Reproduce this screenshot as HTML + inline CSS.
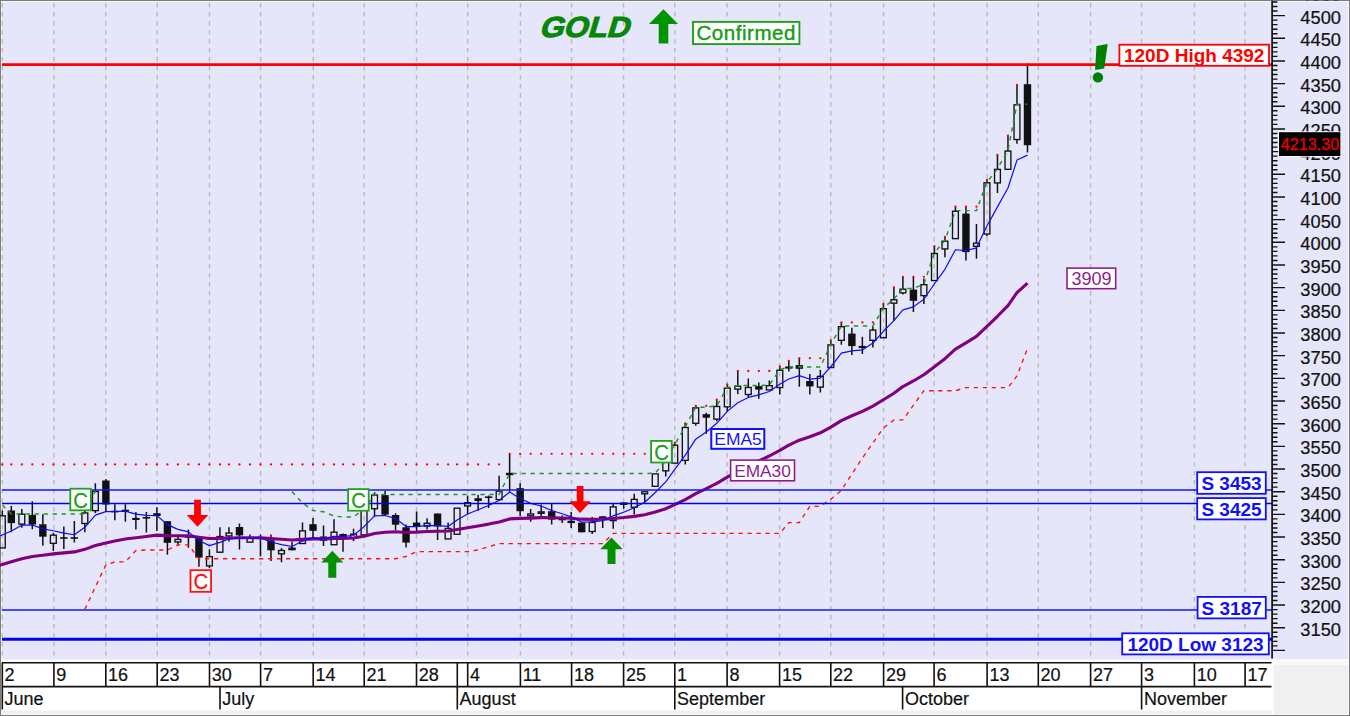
<!DOCTYPE html><html><head><meta charset="utf-8"><title>GOLD</title><style>
html,body{margin:0;padding:0;background:#fff;overflow:hidden}svg{display:block}
text{font-family:"Liberation Sans",sans-serif}.ser{font-family:"Liberation Serif",serif}
</style></head><body>
<svg width="1350" height="716" viewBox="0 0 1350 716">
<defs><clipPath id="axclip"><rect x="1273" y="0.6" width="76" height="658.4"/></clipPath></defs>
<rect x="0" y="0" width="1350" height="716" fill="#7c7c7c"/>
<rect x="1" y="1" width="1348" height="714" fill="#f6f6fc"/>
<rect x="2" y="2" width="1346" height="712" fill="#f0f0f0"/>
<rect x="2" y="2" width="1346" height="657.5" fill="#e6e6fa"/>
<rect x="2" y="659.5" width="1346" height="3" fill="#fbfbfb"/>
<rect x="2" y="662" width="1270" height="48.5" fill="#fff"/>
<rect x="1272" y="659.5" width="2" height="54.5" fill="#fbfbfb"/><rect x="1272" y="659.5" width="76" height="5.5" fill="#fbfbfb"/><rect x="1272" y="661.8" width="76" height="1" fill="#f3f3f3"/>
<path d="M2.3 3V659M53.9 3V659M105.8 3V659M157.2 3V659M209.5 3V659M260.6 3V659M313.2 3V659M364.2 3V659M416.5 3V659M467.7 3V659M520.4 3V659M571.6 3V659M623.6 3V659M674.8 3V659M727.1 3V659M779.6 3V659M830.8 3V659M883.6 3V659M934.1 3V659M987.1 3V659M1038.3 3V659M1090.6 3V659M1141.6 3V659M1194.4 3V659M1245.1 3V659" stroke="#b9b9b9" stroke-width="1.4" stroke-dasharray="4.5 4.5" fill="none"/>
<path d="M2.3 510.5V515.6M11.31 505.9V532.3M21.81 508.9V514M21.81 524.3V527.8M32.32 501.3V529.3M42.83 514.2V545.7M53.33 532.7V535M53.33 543.5V551.1M63.84 526.6V548.9M74.35 521V542.6M84.85 511V512.8M84.85 523.7V532.2M95.36 483.3V491.3M95.36 510.8V513M105.87 479V512M114.87 504.2V520.3M125.38 504.2V521.7M135.89 511.9V529.4M146.4 511.9V532.4M156.9 507.2V531M167.41 521.2V554.7M177.92 536.6V539.2M177.92 542.1V545.6M188.42 529.6V547.7M198.93 535.9V566.8M209.44 549.2V556.5M209.44 566.1V568.3M219.94 527.2V536.4M228.95 527.2V532.9M228.95 536.1V541.5M239.46 523.5V549.4M249.97 534.4V538M260.47 534.4V556.3M270.98 534.4V561M281.49 548V550.3M281.49 554V562.3M291.99 541.7V550.3M302.5 522.4V530.7M313.01 517.9V537.5M323.51 525.6V546M334.02 519.2V532M343.03 533.5V551.7M353.53 528.7V534M353.53 537.9V541.2M364.04 505V509.5M374.55 492.3V494.9M374.55 508.9V516.8M385.06 490.7V516.1M395.56 513.3V530.1M406.07 524.5V547.5M416.58 511.5V531M427.08 518.2V523.1M427.08 526.3V529.6M437.59 513.5V540.1M448.1 522.6V528.3M467.61 495.4V502.5M467.61 506.1V514.2M478.12 494.7V510.8M488.62 495.4V508M499.13 475.8V491M509.64 453.8V491.7M520.14 483.3V516.1M530.65 508.9V513.8M530.65 516V521.7M541.16 504.5V511.7M541.16 513.5V516.1M551.67 504V524.5M562.17 515.4V523.1M571.18 511.9V528M581.69 522.6V532.3M592.19 517.1V522.3M592.19 531.7V533.9M602.7 516.3V528M613.21 503.7V506.7M613.21 520.8V528.8M623.71 502.4V508.7M634.22 493.7V499.2M634.22 507.4V514.6M644.73 494V502M665.74 471V476.4M674.75 442.8V445M685.25 423.3V427.3M685.25 460.5V464.5M695.76 405.8V407.7M695.76 423.5V425.8M706.27 412.8V433.8M716.78 399.6V406.3M716.78 419.3V421.2M727.28 384.4V388M727.28 407V411.2M737.79 371V386M737.79 389.3V394.2M748.3 378.4V387.3M748.3 394.7V397.3M758.8 382.6V398.7M769.31 380.5V385.5M779.82 366.5V370.1M779.82 387.7V394.5M788.82 361V371.4M799.33 358.2V386.8M809.84 374V394.5M820.34 369.7V376.2M820.34 387.3V392.5M830.85 340.3V344.7M841.36 322.4V326.5M841.36 340.5V344.7M851.87 327.7V354.9M862.37 336.8V354M872.88 326.6V329.9M872.88 340.5V347.5M883.39 304V308.5M893.89 287.4V299.6M893.89 303.3V320.9M902.9 276.8V289M902.9 293V294.6M913.41 276.8V312M923.91 278.4V284.5M923.91 295.8V304.1M934.42 246.1V253.3M944.93 237V241M944.93 249.1V257.3M955.43 206.7V211.1M965.94 206.7V260.4M976.45 224V243M976.45 246.5V258.8M986.96 179.9V182.6M986.96 234.2V236.2M997.46 154.9V169.2M997.46 183.1V193M1007.97 135.6V150.9M1016.98 84.9V104.6M1016.98 139.7V143.7M1027.48 64.4V152.4" stroke="#111" stroke-width="1.5" fill="none"/>
<g><rect x="-0.62" y="515.77" width="5.85" height="32.15" fill="none" stroke="#111" stroke-width="1.35"/><rect x="7.61" y="510.5" width="7.4" height="12.6" fill="#111"/><rect x="18.89" y="514.17" width="5.85" height="9.95" fill="none" stroke="#111" stroke-width="1.35"/><rect x="28.62" y="514.9" width="7.4" height="9.7" fill="#111"/><rect x="39.13" y="524.3" width="7.4" height="12.4" fill="#111"/><rect x="50.41" y="535.17" width="5.85" height="8.15" fill="none" stroke="#111" stroke-width="1.35"/><rect x="60.14" y="537.2" width="7.4" height="1.6" fill="#111"/><rect x="70.65" y="537.2" width="7.4" height="1.6" fill="#111"/><rect x="81.93" y="512.97" width="5.85" height="10.55" fill="none" stroke="#111" stroke-width="1.35"/><rect x="92.44" y="491.48" width="5.85" height="19.15" fill="none" stroke="#111" stroke-width="1.35"/><rect x="102.17" y="480.5" width="7.4" height="24" fill="#111"/><rect x="111.17" y="510.7" width="7.4" height="1.6" fill="#111"/><rect x="121.68" y="509.7" width="7.4" height="1.6" fill="#111"/><rect x="132.19" y="517.9" width="7.4" height="2.1" fill="#111"/><rect x="142.7" y="517" width="7.4" height="1.6" fill="#111"/><rect x="153.2" y="513.2" width="7.4" height="2.8" fill="#111"/><rect x="163.71" y="521.2" width="7.4" height="21.6" fill="#111"/><rect x="174.99" y="539.38" width="5.85" height="2.55" fill="none" stroke="#111" stroke-width="1.35"/><rect x="184.72" y="536.2" width="7.4" height="1.6" fill="#111"/><rect x="195.23" y="536.4" width="7.4" height="21.2" fill="#111"/><rect x="206.51" y="556.67" width="5.85" height="9.25" fill="none" stroke="#111" stroke-width="1.35"/><rect x="217.02" y="536.57" width="5.85" height="15.65" fill="none" stroke="#111" stroke-width="1.35"/><rect x="226.03" y="533.07" width="5.85" height="2.85" fill="none" stroke="#111" stroke-width="1.35"/><rect x="235.76" y="527" width="7.4" height="8.4" fill="#111"/><rect x="247.04" y="538.17" width="5.85" height="3.95" fill="none" stroke="#111" stroke-width="1.35"/><rect x="256.77" y="537.5" width="7.4" height="1.6" fill="#111"/><rect x="267.28" y="540.3" width="7.4" height="10" fill="#111"/><rect x="278.56" y="550.47" width="5.85" height="3.35" fill="none" stroke="#111" stroke-width="1.35"/><rect x="288.29" y="547.5" width="7.4" height="2.8" fill="#111"/><rect x="299.57" y="530.88" width="5.85" height="12.65" fill="none" stroke="#111" stroke-width="1.35"/><rect x="309.31" y="524.2" width="7.4" height="6.6" fill="#111"/><rect x="319.81" y="536.5" width="7.4" height="4.3" fill="#111"/><rect x="331.1" y="532.17" width="5.85" height="12.55" fill="none" stroke="#111" stroke-width="1.35"/><rect x="339.33" y="534" width="7.4" height="2.8" fill="#111"/><rect x="350.61" y="534.17" width="5.85" height="3.55" fill="none" stroke="#111" stroke-width="1.35"/><rect x="361.12" y="509.68" width="5.85" height="25.25" fill="none" stroke="#111" stroke-width="1.35"/><rect x="371.62" y="495.07" width="5.85" height="13.65" fill="none" stroke="#111" stroke-width="1.35"/><rect x="381.36" y="495.1" width="7.4" height="19.6" fill="#111"/><rect x="391.86" y="515" width="7.4" height="9.7" fill="#111"/><rect x="402.37" y="527.3" width="7.4" height="15.3" fill="#111"/><rect x="412.88" y="522.6" width="7.4" height="4.2" fill="#111"/><rect x="424.16" y="523.27" width="5.85" height="2.85" fill="none" stroke="#111" stroke-width="1.35"/><rect x="433.89" y="513.5" width="7.4" height="13" fill="#111"/><rect x="445.17" y="528.47" width="5.85" height="10.45" fill="none" stroke="#111" stroke-width="1.35"/><rect x="454.18" y="508.18" width="5.85" height="26.05" fill="none" stroke="#111" stroke-width="1.35"/><rect x="464.68" y="502.68" width="5.85" height="3.25" fill="none" stroke="#111" stroke-width="1.35"/><rect x="474.42" y="498.2" width="7.4" height="2.8" fill="#111"/><rect x="484.92" y="496.4" width="7.4" height="1.6" fill="#111"/><rect x="496.21" y="491.18" width="5.85" height="8.45" fill="none" stroke="#111" stroke-width="1.35"/><rect x="505.94" y="472.8" width="7.4" height="2.4" fill="#111"/><rect x="516.44" y="488.2" width="7.4" height="23" fill="#111"/><rect x="527.73" y="513.97" width="5.85" height="1.85" fill="none" stroke="#111" stroke-width="1.35"/><rect x="538.23" y="511.88" width="5.85" height="1.45" fill="none" stroke="#111" stroke-width="1.35"/><rect x="547.97" y="511.2" width="7.4" height="8.4" fill="#111"/><rect x="558.47" y="517.5" width="7.4" height="2.8" fill="#111"/><rect x="567.48" y="520.7" width="7.4" height="2.4" fill="#111"/><rect x="577.99" y="522.6" width="7.4" height="9.7" fill="#111"/><rect x="589.27" y="522.47" width="5.85" height="9.05" fill="none" stroke="#111" stroke-width="1.35"/><rect x="599" y="516.3" width="7.4" height="2.1" fill="#111"/><rect x="610.28" y="506.88" width="5.85" height="13.75" fill="none" stroke="#111" stroke-width="1.35"/><rect x="620.01" y="502.4" width="7.4" height="2.6" fill="#111"/><rect x="631.3" y="499.38" width="5.85" height="7.85" fill="none" stroke="#111" stroke-width="1.35"/><rect x="641.8" y="491.78" width="5.85" height="2.05" fill="none" stroke="#111" stroke-width="1.35"/><rect x="652.31" y="473.88" width="5.85" height="12.45" fill="none" stroke="#111" stroke-width="1.35"/><rect x="662.82" y="461.18" width="5.85" height="9.65" fill="none" stroke="#111" stroke-width="1.35"/><rect x="671.82" y="445.18" width="5.85" height="17.95" fill="none" stroke="#111" stroke-width="1.35"/><rect x="682.33" y="427.48" width="5.85" height="32.85" fill="none" stroke="#111" stroke-width="1.35"/><rect x="692.84" y="407.88" width="5.85" height="15.45" fill="none" stroke="#111" stroke-width="1.35"/><rect x="702.57" y="414.2" width="7.4" height="3.5" fill="#111"/><rect x="713.85" y="406.48" width="5.85" height="12.65" fill="none" stroke="#111" stroke-width="1.35"/><rect x="724.36" y="388.18" width="5.85" height="18.65" fill="none" stroke="#111" stroke-width="1.35"/><rect x="734.86" y="386.18" width="5.85" height="2.95" fill="none" stroke="#111" stroke-width="1.35"/><rect x="745.37" y="387.48" width="5.85" height="7.05" fill="none" stroke="#111" stroke-width="1.35"/><rect x="755.1" y="386.1" width="7.4" height="3.5" fill="#111"/><rect x="766.39" y="385.68" width="5.85" height="4.25" fill="none" stroke="#111" stroke-width="1.35"/><rect x="776.89" y="370.28" width="5.85" height="17.25" fill="none" stroke="#111" stroke-width="1.35"/><rect x="785.12" y="366.5" width="7.4" height="2.1" fill="#111"/><rect x="795.63" y="365.1" width="7.4" height="3.7" fill="#111"/><rect x="806.14" y="381" width="7.4" height="5.4" fill="#111"/><rect x="817.42" y="376.38" width="5.85" height="10.75" fill="none" stroke="#111" stroke-width="1.35"/><rect x="827.93" y="344.88" width="5.85" height="22.65" fill="none" stroke="#111" stroke-width="1.35"/><rect x="838.43" y="326.68" width="5.85" height="13.65" fill="none" stroke="#111" stroke-width="1.35"/><rect x="848.17" y="333.6" width="7.4" height="12.5" fill="#111"/><rect x="858.67" y="345.9" width="7.4" height="2.1" fill="#111"/><rect x="869.95" y="330.07" width="5.85" height="10.25" fill="none" stroke="#111" stroke-width="1.35"/><rect x="880.46" y="308.68" width="5.85" height="29.05" fill="none" stroke="#111" stroke-width="1.35"/><rect x="890.97" y="299.78" width="5.85" height="3.35" fill="none" stroke="#111" stroke-width="1.35"/><rect x="899.97" y="289.18" width="5.85" height="3.65" fill="none" stroke="#111" stroke-width="1.35"/><rect x="909.71" y="289.6" width="7.4" height="11.2" fill="#111"/><rect x="920.99" y="284.68" width="5.85" height="10.95" fill="none" stroke="#111" stroke-width="1.35"/><rect x="931.5" y="253.48" width="5.85" height="27.05" fill="none" stroke="#111" stroke-width="1.35"/><rect x="942" y="241.18" width="5.85" height="7.75" fill="none" stroke="#111" stroke-width="1.35"/><rect x="952.51" y="211.28" width="5.85" height="27.35" fill="none" stroke="#111" stroke-width="1.35"/><rect x="962.24" y="213.6" width="7.4" height="38.5" fill="#111"/><rect x="973.52" y="243.18" width="5.85" height="3.15" fill="none" stroke="#111" stroke-width="1.35"/><rect x="984.03" y="182.78" width="5.85" height="51.25" fill="none" stroke="#111" stroke-width="1.35"/><rect x="994.54" y="169.38" width="5.85" height="13.55" fill="none" stroke="#111" stroke-width="1.35"/><rect x="1005.04" y="151.08" width="5.85" height="18.25" fill="none" stroke="#111" stroke-width="1.35"/><rect x="1014.05" y="104.77" width="5.85" height="34.75" fill="none" stroke="#111" stroke-width="1.35"/><rect x="1023.78" y="84.2" width="7.4" height="61" fill="#111"/></g>
<polyline points="84.85,609.3 95.36,587 105.87,564.8 114.87,561.9 125.38,561.9 135.89,550.5 146.4,550 156.9,550 167.41,550 177.92,544.8 188.42,544.8 198.93,558.8 209.44,558.7 219.94,558.7 228.95,558.7 239.46,558.7 249.97,558.7 260.47,558.7 270.98,558.7 281.49,558.7 291.99,558.7 302.5,558.7 313.01,558.7 323.51,558.7 334.02,558.7 343.03,558.7 353.53,558.7 364.04,558.7 374.55,558.7 385.06,558.7 395.56,558.7 406.07,556.5 416.58,551.6 427.08,551.6 437.59,551.6 448.1,551.6 457.1,551.6 467.61,551.6 478.12,550 488.62,546.7 499.13,543.6 509.64,543.6 520.14,543.6 530.65,543.6 541.16,543.6 551.67,543.6 562.17,543.6 571.18,543.6 581.69,543.6 592.19,543.6 602.7,543.6 613.21,533.4 623.71,533.4 634.22,533.4 644.73,533.4 655.23,533.4 665.74,533.4 674.75,533.4 685.25,533.4 695.76,533.4 706.27,533.4 716.78,533.4 727.28,533.4 737.79,533.4 748.3,533.4 758.8,533.4 769.31,533.4 779.82,533.4 788.82,522.6 799.33,522.6 809.84,506.3 820.34,506.3 830.85,499.2 841.36,490.4 851.87,474 862.37,458 872.88,443 883.39,428 893.89,419.9 902.9,419.9 913.41,405.2 923.91,390.7 934.42,390.7 944.93,390.7 955.43,390.7 965.94,387.6 976.45,387.6 986.96,387.6 997.46,387.6 1007.97,387.6 1016.98,376 1027.48,348.4" fill="none" stroke="#ff1010" stroke-width="1.35" stroke-dasharray="4.3 4.7"/>
<g fill="#ff0000"><circle cx="2.3" cy="464.4" r="1.15"/><circle cx="11.31" cy="464.4" r="1.15"/><circle cx="21.81" cy="464.4" r="1.15"/><circle cx="32.32" cy="464.4" r="1.15"/><circle cx="42.83" cy="464.4" r="1.15"/><circle cx="53.33" cy="464.4" r="1.15"/><circle cx="63.84" cy="464.4" r="1.15"/><circle cx="74.35" cy="464.4" r="1.15"/><circle cx="84.85" cy="464.4" r="1.15"/><circle cx="95.36" cy="464.4" r="1.15"/><circle cx="105.87" cy="464.4" r="1.15"/><circle cx="114.87" cy="464.4" r="1.15"/><circle cx="125.38" cy="464.4" r="1.15"/><circle cx="135.89" cy="464.4" r="1.15"/><circle cx="146.4" cy="464.4" r="1.15"/><circle cx="156.9" cy="464.4" r="1.15"/><circle cx="167.41" cy="464.4" r="1.15"/><circle cx="177.92" cy="464.4" r="1.15"/><circle cx="188.42" cy="464.4" r="1.15"/><circle cx="198.93" cy="464.4" r="1.15"/><circle cx="209.44" cy="464.4" r="1.15"/><circle cx="219.94" cy="464.4" r="1.15"/><circle cx="228.95" cy="464.4" r="1.15"/><circle cx="239.46" cy="464.4" r="1.15"/><circle cx="249.97" cy="464.4" r="1.15"/><circle cx="260.47" cy="464.4" r="1.15"/><circle cx="270.98" cy="464.4" r="1.15"/><circle cx="281.49" cy="464.4" r="1.15"/><circle cx="291.99" cy="464.4" r="1.15"/><circle cx="302.5" cy="464.4" r="1.15"/><circle cx="313.01" cy="464.4" r="1.15"/><circle cx="323.51" cy="464.4" r="1.15"/><circle cx="334.02" cy="464.4" r="1.15"/><circle cx="343.03" cy="464.4" r="1.15"/><circle cx="353.53" cy="464.4" r="1.15"/><circle cx="364.04" cy="464.4" r="1.15"/><circle cx="374.55" cy="464.4" r="1.15"/><circle cx="385.06" cy="464.4" r="1.15"/><circle cx="395.56" cy="464.4" r="1.15"/><circle cx="406.07" cy="464.4" r="1.15"/><circle cx="416.58" cy="464.4" r="1.15"/><circle cx="427.08" cy="464.4" r="1.15"/><circle cx="437.59" cy="464.4" r="1.15"/><circle cx="448.1" cy="464.4" r="1.15"/><circle cx="457.1" cy="464.4" r="1.15"/><circle cx="467.61" cy="464.4" r="1.15"/><circle cx="478.12" cy="464.4" r="1.15"/><circle cx="488.62" cy="464.4" r="1.15"/><circle cx="499.13" cy="464.4" r="1.15"/><circle cx="509.64" cy="453.8" r="1.15"/><circle cx="520.14" cy="453.8" r="1.15"/><circle cx="530.65" cy="453.8" r="1.15"/><circle cx="541.16" cy="453.8" r="1.15"/><circle cx="551.67" cy="453.8" r="1.15"/><circle cx="562.17" cy="453.8" r="1.15"/><circle cx="571.18" cy="453.8" r="1.15"/><circle cx="581.69" cy="453.8" r="1.15"/><circle cx="592.19" cy="453.8" r="1.15"/><circle cx="602.7" cy="453.8" r="1.15"/><circle cx="613.21" cy="453.8" r="1.15"/><circle cx="623.71" cy="453.8" r="1.15"/><circle cx="634.22" cy="453.8" r="1.15"/><circle cx="644.73" cy="453.8" r="1.15"/><circle cx="655.23" cy="453.8" r="1.15"/><circle cx="665.74" cy="453.8" r="1.15"/><circle cx="674.75" cy="442.8" r="1.15"/><circle cx="685.25" cy="423.3" r="1.15"/><circle cx="695.76" cy="405.8" r="1.15"/><circle cx="706.27" cy="405.8" r="1.15"/><circle cx="716.78" cy="399.6" r="1.15"/><circle cx="727.28" cy="384.4" r="1.15"/><circle cx="737.79" cy="371" r="1.15"/><circle cx="748.3" cy="371" r="1.15"/><circle cx="758.8" cy="371" r="1.15"/><circle cx="769.31" cy="371" r="1.15"/><circle cx="779.82" cy="366.5" r="1.15"/><circle cx="788.82" cy="361" r="1.15"/><circle cx="799.33" cy="358.2" r="1.15"/><circle cx="809.84" cy="358.2" r="1.15"/><circle cx="820.34" cy="358.2" r="1.15"/><circle cx="830.85" cy="340.3" r="1.15"/><circle cx="841.36" cy="322.4" r="1.15"/><circle cx="851.87" cy="322.4" r="1.15"/><circle cx="862.37" cy="322.4" r="1.15"/><circle cx="872.88" cy="322.4" r="1.15"/><circle cx="883.39" cy="304" r="1.15"/><circle cx="893.89" cy="287.4" r="1.15"/><circle cx="902.9" cy="276.8" r="1.15"/><circle cx="913.41" cy="276.8" r="1.15"/><circle cx="923.91" cy="276.8" r="1.15"/><circle cx="934.42" cy="246.1" r="1.15"/><circle cx="944.93" cy="237" r="1.15"/><circle cx="955.43" cy="206.7" r="1.15"/><circle cx="965.94" cy="206.7" r="1.15"/><circle cx="976.45" cy="206.7" r="1.15"/><circle cx="986.96" cy="179.9" r="1.15"/><circle cx="997.46" cy="154.9" r="1.15"/><circle cx="1007.97" cy="135.6" r="1.15"/><circle cx="1016.98" cy="84.9" r="1.15"/><circle cx="1027.48" cy="64.4" r="1.15"/></g>
<polyline points="2.3,505 11.31,514 21.81,514 84.85,514 95.36,490.8" fill="none" stroke="#1e961e" stroke-width="1.45" stroke-dasharray="4.3 4.7"/>
<polyline points="291.99,491.5 302.5,503 313.01,510.5 323.51,511.8 334.02,516 343.03,517 353.53,517 364.04,509 374.55,494.4 385.06,494.4 395.56,494.4 406.07,494.4 416.58,494.4 427.08,494.4 437.59,494.4 448.1,494.4 457.1,494.4 467.61,494.4 478.12,494.4 488.62,494.4 499.13,494.4 509.64,473.5 520.14,473.5 530.65,473.5 541.16,473.5 551.67,473.5 562.17,473.5 571.18,473.5 581.69,473.5 592.19,473.5 602.7,473.5 613.21,473.5 623.71,473.5 634.22,473.5 644.73,473.5 655.23,473.2 665.74,460.5 674.75,444.5 685.25,426.8 695.76,407.2 706.27,407.2 716.78,405.8 727.28,387.5 737.79,385.5 748.3,385.5 758.8,385.5 769.31,385 779.82,369.6 788.82,367 799.33,367 809.84,367 820.34,367 830.85,344.2 841.36,326 851.87,326 862.37,326 872.88,326 883.39,308 893.89,299.1 902.9,288.5 913.41,288.5 923.91,284 934.42,252.8 944.93,240.5 955.43,210.6 965.94,210.6 976.45,210.6 986.96,182.1 997.46,168.7 1007.97,150.4 1016.98,104.1 1027.48,104.1" fill="none" stroke="#1e961e" stroke-width="1.45" stroke-dasharray="4.3 4.7"/>
<polyline points="-8,567.17 2.3,564.5 11.31,561.83 21.81,558.71 32.32,556.51 42.83,555.23 53.33,553.89 63.84,552.87 74.35,551.91 84.85,549.35 95.36,545.58 105.87,542.93 114.87,540.9 125.38,538.94 135.89,537.72 146.4,536.43 156.9,535.11 167.41,535.61 177.92,535.81 188.42,535.89 198.93,537.29 209.44,538.49 219.94,538.33 228.95,537.94 239.46,537.78 249.97,537.76 260.47,537.79 270.98,538.6 281.49,539.32 291.99,540.03 302.5,539.4 313.01,538.84 323.51,538.97 334.02,538.49 343.03,538.38 353.53,538.06 364.04,536.19 374.55,533.49 385.06,532.28 395.56,531.79 406.07,532.49 416.58,532.12 427.08,531.51 437.59,531.18 448.1,530.97 457.1,529.45 467.61,527.68 478.12,525.96 488.62,524.1 499.13,521.94 509.64,518.92 520.14,518.42 530.65,518.09 541.16,517.65 551.67,517.77 562.17,517.94 571.18,518.27 581.69,519.17 592.19,519.34 602.7,519.28 613.21,518.44 623.71,517.57 634.22,516.35 644.73,514.73 655.23,512.05 665.74,508.72 674.75,504.58 685.25,499.56 695.76,493.6 706.27,488.7 716.78,483.36 727.28,477.17 737.79,471.26 748.3,465.81 758.8,460.89 769.31,456 779.82,450.42 788.82,445.14 799.33,440.22 809.84,436.75 820.34,432.81 830.85,427.09 841.36,420.57 851.87,415.76 862.37,411.39 872.88,406.1 883.39,399.77 893.89,393.28 902.9,386.52 913.41,380.99 923.91,374.73 934.42,366.86 944.93,358.71 955.43,349.16 965.94,342.89 976.45,336.42 986.96,326.46 997.46,316.28 1007.97,305.58 1016.98,292.58 1027.48,283.07" fill="none" stroke="#800080" stroke-width="3.1" stroke-linejoin="round"/>
<polyline points="-8,538.97 2.3,535 11.31,531.03 21.81,525.19 32.32,524.99 42.83,528.9 53.33,530.76 63.84,533.18 74.35,534.78 84.85,527.29 95.36,515.13 105.87,511.58 114.87,511.56 125.38,511.2 135.89,514.14 146.4,515.36 156.9,515.57 167.41,524.65 177.92,529.33 188.42,531.89 198.93,540.46 209.44,545.64 219.94,542.39 228.95,539.06 239.46,537.84 249.97,537.73 260.47,537.9 270.98,542.03 281.49,544.62 291.99,546.52 302.5,541.08 313.01,537.65 323.51,538.7 334.02,536.3 343.03,536.47 353.53,535.48 364.04,526.65 374.55,515.9 385.06,515.5 395.56,518.57 406.07,526.58 416.58,526.65 427.08,525.3 437.59,525.7 448.1,526.4 457.1,520.1 467.61,514.07 478.12,509.71 488.62,505.54 499.13,500.53 509.64,492.08 520.14,498.46 530.65,503.4 541.16,506 551.67,510.54 562.17,513.79 571.18,516.89 581.69,522.03 592.19,521.95 602.7,520.77 613.21,515.91 623.71,512.27 634.22,507.75 644.73,502.2 655.23,492.53 665.74,481.86 674.75,469.4 685.25,455.2 695.76,439.2 706.27,432.03 716.78,423.29 727.28,411.36 737.79,402.74 748.3,397.43 758.8,394.82 769.31,391.55 779.82,384.23 788.82,379.02 799.33,375.61 809.84,379.21 820.34,378.04 830.85,366.76 841.36,353.17 851.87,350.82 862.37,349.88 872.88,343.05 883.39,331.37 893.89,320.61 902.9,309.91 913.41,306.87 923.91,299.25 934.42,283.77 944.93,269.34 955.43,249.76 965.94,250.54 976.45,247.86 986.96,225.94 997.46,206.86 1007.97,188.04 1016.98,160.06 1027.48,155.11" fill="none" stroke="#0a0aff" stroke-width="1.2" stroke-linejoin="round"/>
<line x1="2" y1="64.6" x2="1272" y2="64.6" stroke="#ff0000" stroke-width="2.6"/>
<line x1="2" y1="490" x2="1272" y2="490" stroke="#1414ff" stroke-width="1.7"/>
<line x1="2" y1="503.5" x2="1272" y2="503.5" stroke="#0000f0" stroke-width="1.7"/>
<line x1="2" y1="610" x2="1272" y2="610" stroke="#1414ff" stroke-width="1.5"/>
<line x1="2" y1="639.3" x2="1272" y2="639.3" stroke="#0000f0" stroke-width="2.9"/>
<path d="M194.1 499.8H200.9V515H208.3L197.5 526.8L186.7 515H194.1Z" fill="#ff0000"/>
<path d="M576.7 486H583.5V501.2H590.9L580.1 513L569.3 501.2H576.7Z" fill="#ff0000"/>
<path d="M328.3 577.8H336.3V562.6H343.3L332.3 550.8L321.3 562.6H328.3Z" fill="#009000"/>
<path d="M607.5 564H615.5V549.2H622.75L611.5 537.4L600.25 549.2H607.5Z" fill="#009000"/>
<path d="M658.7 43.6H668.3V23.9H678L663.5 9.3L649 23.9H658.7Z" fill="#009400"/>
<rect x="70.3" y="488.7" width="20.6" height="21.6" fill="#fff" stroke="#22a022" stroke-width="1.8"/><text transform="translate(80.7 507.6) scale(0.9 1)" font-size="22.6" fill="#22a022" stroke="#22a022" stroke-width="0.3" text-anchor="middle">C</text>
<rect x="348.1" y="489.1" width="20.6" height="21.6" fill="#fff" stroke="#22a022" stroke-width="1.8"/><text transform="translate(358.5 508) scale(0.9 1)" font-size="22.6" fill="#22a022" stroke="#22a022" stroke-width="0.3" text-anchor="middle">C</text>
<rect x="651.1" y="440.9" width="20.6" height="21.6" fill="#fff" stroke="#22a022" stroke-width="1.8"/><text transform="translate(661.5 459.8) scale(0.9 1)" font-size="22.6" fill="#22a022" stroke="#22a022" stroke-width="0.3" text-anchor="middle">C</text>
<rect x="190.5" y="570.2" width="20.6" height="21.6" fill="#fff" stroke="#ff1010" stroke-width="1.8"/><text transform="translate(200.9 589.1) scale(0.9 1)" font-size="22.6" fill="#ff1010" stroke="#ff1010" stroke-width="0.3" text-anchor="middle">C</text>
<rect x="711.3" y="429" width="53" height="19.8" fill="#fff" stroke="#1010ff" stroke-width="2"/>
<text x="738" y="445.4" font-size="17.4" fill="#1414ff" text-anchor="middle">EMA5</text>
<rect x="730.6" y="460.1" width="63.9" height="20.7" fill="#fff" stroke="#8c1e8c" stroke-width="1.6"/>
<text x="762.5" y="477" font-size="17.3" fill="#8c1e8c" text-anchor="middle">EMA30</text>
<rect x="1067" y="268.1" width="48.7" height="20.6" fill="#fff" stroke="#8c1e8c" stroke-width="1.6"/>
<text x="1091.4" y="285" font-size="18" fill="#8c1e8c" text-anchor="middle">3909</text>
<rect x="1119.4" y="44.7" width="149.6" height="21.1" fill="#fff" stroke="#ff0000" stroke-width="1.8"/><text x="1194.2" y="62.15" font-size="19" font-weight="bold" fill="#ff0000" text-anchor="middle">120D High 4392</text>
<rect x="1197.2" y="472.2" width="68.6" height="21.6" fill="#fff" stroke="#1010ff" stroke-width="1.8"/><text x="1231.5" y="489.9" font-size="19" font-weight="bold" fill="#1010ff" text-anchor="middle">S 3453</text>
<rect x="1197.2" y="498.1" width="68.6" height="21.3" fill="#fff" stroke="#1010ff" stroke-width="1.8"/><text x="1231.5" y="515.65" font-size="19" font-weight="bold" fill="#1010ff" text-anchor="middle">S 3425</text>
<rect x="1197.6" y="596.9" width="68.2" height="21.5" fill="#fff" stroke="#1010ff" stroke-width="1.8"/><text x="1231.7" y="614.55" font-size="19" font-weight="bold" fill="#1010ff" text-anchor="middle">S 3187</text>
<rect x="1122.2" y="633.3" width="146.6" height="21.1" fill="#fff" stroke="#1010ff" stroke-width="1.8"/><text x="1195.5" y="650.75" font-size="19" font-weight="bold" fill="#1010ff" text-anchor="middle">120D Low 3123</text>
<text transform="translate(583.5 36.9) skewX(-16.5) scale(1.07 1)" x="0" y="0" font-size="29" font-weight="bold" fill="#078707" stroke="#078707" stroke-width="1" text-anchor="middle">GOLD</text>
<rect x="693" y="21.9" width="106.4" height="22.2" fill="#fff" stroke="#1ea01e" stroke-width="1.9"/>
<text x="746.2" y="40.4" font-size="20.5" letter-spacing="0.55" fill="#1a9c1a" stroke="#1a9c1a" stroke-width="0.45" text-anchor="middle">Confirmed</text>
<path d="M1096.5 46L1107.7 43.9L1104.2 68.4L1095.1 70.1Z" fill="#008000"/><circle cx="1097.9" cy="77.4" r="5.2" fill="#008000"/>
<line x1="1272.1" y1="0.8" x2="1272.1" y2="658.5" stroke="#111" stroke-width="1.7"/>
<path d="M1272 650.4H1285M1272 645.87H1277.5M1272 641.33H1277.5M1272 636.8H1277.5M1272 632.26H1277.5M1272 627.73H1285M1272 623.19H1277.5M1272 618.66H1277.5M1272 614.13H1277.5M1272 609.59H1277.5M1272 605.06H1285M1272 600.52H1277.5M1272 595.99H1277.5M1272 591.45H1277.5M1272 586.92H1277.5M1272 582.39H1285M1272 577.85H1277.5M1272 573.32H1277.5M1272 568.78H1277.5M1272 564.25H1277.5M1272 559.71H1285M1272 555.18H1277.5M1272 550.65H1277.5M1272 546.11H1277.5M1272 541.58H1277.5M1272 537.04H1285M1272 532.51H1277.5M1272 527.97H1277.5M1272 523.44H1277.5M1272 518.91H1277.5M1272 514.37H1285M1272 509.84H1277.5M1272 505.3H1277.5M1272 500.77H1277.5M1272 496.23H1277.5M1272 491.7H1285M1272 487.17H1277.5M1272 482.63H1277.5M1272 478.1H1277.5M1272 473.56H1277.5M1272 469.03H1285M1272 464.49H1277.5M1272 459.96H1277.5M1272 455.43H1277.5M1272 450.89H1277.5M1272 446.36H1285M1272 441.82H1277.5M1272 437.29H1277.5M1272 432.75H1277.5M1272 428.22H1277.5M1272 423.68H1285M1272 419.15H1277.5M1272 414.62H1277.5M1272 410.08H1277.5M1272 405.55H1277.5M1272 401.01H1285M1272 396.48H1277.5M1272 391.94H1277.5M1272 387.41H1277.5M1272 382.88H1277.5M1272 378.34H1285M1272 373.81H1277.5M1272 369.27H1277.5M1272 364.74H1277.5M1272 360.2H1277.5M1272 355.67H1285M1272 351.14H1277.5M1272 346.6H1277.5M1272 342.07H1277.5M1272 337.53H1277.5M1272 333H1285M1272 328.46H1277.5M1272 323.93H1277.5M1272 319.4H1277.5M1272 314.86H1277.5M1272 310.33H1285M1272 305.79H1277.5M1272 301.26H1277.5M1272 296.72H1277.5M1272 292.19H1277.5M1272 287.66H1285M1272 283.12H1277.5M1272 278.59H1277.5M1272 274.05H1277.5M1272 269.52H1277.5M1272 264.98H1285M1272 260.45H1277.5M1272 255.92H1277.5M1272 251.38H1277.5M1272 246.85H1277.5M1272 242.31H1285M1272 237.78H1277.5M1272 233.24H1277.5M1272 228.71H1277.5M1272 224.18H1277.5M1272 219.64H1285M1272 215.11H1277.5M1272 210.57H1277.5M1272 206.04H1277.5M1272 201.5H1277.5M1272 196.97H1285M1272 192.44H1277.5M1272 187.9H1277.5M1272 183.37H1277.5M1272 178.83H1277.5M1272 174.3H1285M1272 169.76H1277.5M1272 165.23H1277.5M1272 160.7H1277.5M1272 156.16H1277.5M1272 151.63H1285M1272 147.09H1277.5M1272 142.56H1277.5M1272 138.02H1277.5M1272 133.49H1277.5M1272 128.96H1285M1272 124.42H1277.5M1272 119.89H1277.5M1272 115.35H1277.5M1272 110.82H1277.5M1272 106.28H1285M1272 101.75H1277.5M1272 97.22H1277.5M1272 92.68H1277.5M1272 88.15H1277.5M1272 83.61H1285M1272 79.08H1277.5M1272 74.54H1277.5M1272 70.01H1277.5M1272 65.48H1277.5M1272 60.94H1285M1272 56.41H1277.5M1272 51.87H1277.5M1272 47.34H1277.5M1272 42.8H1277.5M1272 38.27H1285M1272 33.74H1277.5M1272 29.2H1277.5M1272 24.67H1277.5M1272 20.13H1277.5M1272 15.6H1285M1272 11.06H1277.5M1272 6.53H1277.5M1272 2H1277.5" stroke="#111" stroke-width="1.4" fill="none"/>
<g clip-path="url(#axclip)" font-size="18.3" fill="#111" stroke="#111" stroke-width="0.2"><text x="1341" y="635.73" text-anchor="end">3150</text><text x="1341" y="613.06" text-anchor="end">3200</text><text x="1341" y="590.39" text-anchor="end">3250</text><text x="1341" y="567.71" text-anchor="end">3300</text><text x="1341" y="545.04" text-anchor="end">3350</text><text x="1341" y="522.37" text-anchor="end">3400</text><text x="1341" y="499.7" text-anchor="end">3450</text><text x="1341" y="477.03" text-anchor="end">3500</text><text x="1341" y="454.36" text-anchor="end">3550</text><text x="1341" y="431.68" text-anchor="end">3600</text><text x="1341" y="409.01" text-anchor="end">3650</text><text x="1341" y="386.34" text-anchor="end">3700</text><text x="1341" y="363.67" text-anchor="end">3750</text><text x="1341" y="341" text-anchor="end">3800</text><text x="1341" y="318.33" text-anchor="end">3850</text><text x="1341" y="295.66" text-anchor="end">3900</text><text x="1341" y="272.98" text-anchor="end">3950</text><text x="1341" y="250.31" text-anchor="end">4000</text><text x="1341" y="227.64" text-anchor="end">4050</text><text x="1341" y="204.97" text-anchor="end">4100</text><text x="1341" y="182.3" text-anchor="end">4150</text><text x="1341" y="159.63" text-anchor="end">4200</text><text x="1341" y="136.96" text-anchor="end">4250</text><text x="1341" y="114.28" text-anchor="end">4300</text><text x="1341" y="91.61" text-anchor="end">4350</text><text x="1341" y="68.94" text-anchor="end">4400</text><text x="1341" y="46.27" text-anchor="end">4450</text><text x="1341" y="23.6" text-anchor="end">4500</text><text x="1341" y="0.93" text-anchor="end">4550</text></g>
<rect x="1278.2" y="131.4" width="63" height="25.4" fill="#fff"/>
<rect x="1279" y="132.2" width="61.4" height="23.8" fill="#000"/>
<text x="1310" y="150.4" font-size="16.2" fill="#e40000" stroke="#e40000" stroke-width="0.35" text-anchor="middle">4213.30</text>
<path d="M2 662.7H1271.5M2 686.6H1271.5" stroke="#111" stroke-width="1.6" fill="none"/>
<path d="M2.3 662.7V686.6M53.9 662.7V686.6M105.8 662.7V686.6M157.2 662.7V686.6M209.5 662.7V686.6M260.6 662.7V686.6M313.2 662.7V686.6M364.2 662.7V686.6M416.5 662.7V686.6M467.7 662.7V686.6M520.4 662.7V686.6M571.6 662.7V686.6M623.6 662.7V686.6M674.8 662.7V686.6M727.1 662.7V686.6M779.6 662.7V686.6M830.8 662.7V686.6M883.6 662.7V686.6M934.1 662.7V686.6M987.1 662.7V686.6M1038.3 662.7V686.6M1090.6 662.7V686.6M1141.6 662.7V686.6M1194.4 662.7V686.6M1245.1 662.7V686.6M2.3 662.7V709.6M220 686.6V709.6M457.3 662.7V709.6M674.8 662.7V709.6M902.6 686.6V709.6M1141.6 662.7V709.6" stroke="#111" stroke-width="1.6" fill="none"/>
<g font-size="18" fill="#111" stroke="#111" stroke-width="0.2"><text x="4.6" y="681">2</text><text x="56.2" y="681">9</text><text x="108.1" y="681">16</text><text x="159.5" y="681">23</text><text x="211.8" y="681">30</text><text x="262.9" y="681">7</text><text x="315.5" y="681">14</text><text x="366.5" y="681">21</text><text x="418.8" y="681">28</text><text x="470" y="681">4</text><text x="522.7" y="681">11</text><text x="573.9" y="681">18</text><text x="625.9" y="681">25</text><text x="677.1" y="681">1</text><text x="729.4" y="681">8</text><text x="781.9" y="681">15</text><text x="833.1" y="681">22</text><text x="885.9" y="681">29</text><text x="936.4" y="681">6</text><text x="989.4" y="681">13</text><text x="1040.6" y="681">20</text><text x="1092.9" y="681">27</text><text x="1143.9" y="681">3</text><text x="1196.7" y="681">10</text><text x="1247.4" y="681">17</text><text x="4.6" y="705">June</text><text x="222.3" y="705">July</text><text x="459.6" y="705">August</text><text x="677.1" y="705">September</text><text x="904.9" y="705">October</text><text x="1143.9" y="705">November</text></g>
</svg></body></html>
